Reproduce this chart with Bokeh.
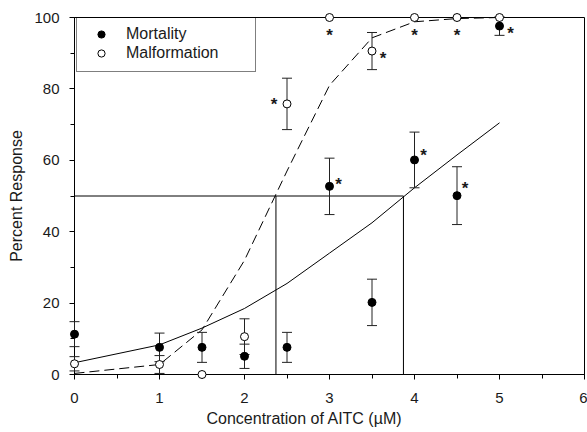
from bokeh.plotting import figure
from bokeh.models import (Range1d, Legend, LegendItem, Title, ColumnDataSource,
                          SingleIntervalTicker)
from bokeh.embed import file_html
from bokeh.resources import INLINE
from bokeh.core.properties import value

# ---------------- data ----------------
conc = [0, 1, 1.5, 2, 2.5, 3, 3.5, 4, 4.5, 5]
mortality = [11.3, 7.6, 7.6, 5.1, 7.6, 52.7, 20.2, 60.1, 50.1, 97.6]
mortality_se = [3.5, 4.0, 4.2, 3.4, 4.2, 7.9, 6.5, 7.8, 8.1, 2.6]
malformation = [3.0, 2.8, 0.0, 10.6, 75.8, 100, 90.6, 100, 100, 100]
malformation_se = [2.0, 2.5, 0.0, 5.0, 7.2, 0.0, 5.2, 0.0, 0.0, 0.0]
mortality_sig = [0, 0, 0, 0, 0, 1, 0, 1, 1, 1]
malformation_sig = [0, 0, 0, 0, 1, 1, 1, 1, 1, 0]

fit_conc = [0, 1, 1.5, 2, 2.5, 3, 3.5, 4, 4.5, 5]
mortality_fit = [3.3, 8.3, 13.0, 18.5, 25.5, 34.0, 42.5, 52.3, 61.5, 70.5]
malformation_fit = [0.3, 2.8, 12.5, 32.0, 57.0, 81.0, 94.3, 98.8, 99.7, 100.0]

ec50_conc = [2.37, 3.87]   # malformation, mortality
ec50_level = 50

# --------------- styles ---------------
FONT = "Liberation Sans"
INK = "#1a1a1a"
# asterisk screen offsets (px) relative to the marker: (dx, dy), dy down
mort_star_off = {3: (9, -6), 4: (9, -8), 4.5: (8, -11), 5: (11, 3)}
malf_star_off = {2.5: (-13, -3), 3: (0, 14), 3.5: (11, 3), 4: (0, 14), 4.5: (0, 14)}
STAR_SHIFT = 4  # glyph sits above "middle" baseline

p = figure(width=587, height=432, output_backend="svg", toolbar_location=None,
           x_range=Range1d(0, 6), y_range=Range1d(0, 100),
           min_border_left=74, min_border_right=3, min_border_top=17,
           min_border_bottom=58)
p.background_fill_color = "white"
p.border_fill_color = "white"
p.outline_line_color = "black"
p.outline_line_width = 1
p.xgrid.visible = False
p.ygrid.visible = False

p.xaxis.ticker = SingleIntervalTicker(interval=1, num_minor_ticks=2)
p.yaxis.ticker = SingleIntervalTicker(interval=20, num_minor_ticks=2)
for ax in (p.xaxis[0], p.yaxis[0]):
    ax.axis_line_color = "black"
    ax.major_tick_line_color = "black"
    ax.minor_tick_line_color = "black"
    ax.major_tick_in = 0
    ax.major_tick_out = 5
    ax.minor_tick_in = 0
    ax.minor_tick_out = 4
    ax.major_label_text_font = FONT
    ax.major_label_text_font_size = "15px"
    ax.major_label_text_color = INK
p.xaxis.major_label_standoff = 13
p.yaxis.major_label_standoff = 10
p.yaxis.axis_label = "Percent Response"
p.yaxis.axis_label_text_font = FONT
p.yaxis.axis_label_text_font_size = "16px"
p.yaxis.axis_label_text_font_style = "normal"
p.yaxis.axis_label_text_color = INK
p.yaxis.axis_label_standoff = 6

p.add_layout(Title(text="Concentration of AITC (\u00b5M)", align="left",
                   offset=132, standoff=5, text_font=FONT,
                   text_font_size="16px", text_font_style="normal",
                   text_color=INK), "below")

# fitted curves
p.line(fit_conc, mortality_fit, line_color="black", line_width=1)
p.line(fit_conc, malformation_fit, line_color="black", line_width=1,
       line_dash="10 5")

# EC50 guide lines
p.segment(x0=[0], y0=[ec50_level], x1=[max(ec50_conc)], y1=[ec50_level],
          line_color="black", line_width=1)
p.segment(x0=ec50_conc, y0=[0] * len(ec50_conc), x1=ec50_conc,
          y1=[ec50_level] * len(ec50_conc), line_color="black", line_width=1)

# error bars
def errbars(xs, ys, se):
    xx = [x for x, e in zip(xs, se) if e > 0]
    lo = [y - e for y, e in zip(ys, se) if e > 0]
    hi = [y + e for y, e in zip(ys, se) if e > 0]
    p.segment(x0=xx, y0=lo, x1=xx, y1=hi, line_color="#222222", line_width=1,
              level="overlay")
    p.scatter(xx + xx, lo + hi, marker="dash", size=10, line_color="#222222",
              line_width=1, level="overlay")

errbars(conc, mortality, mortality_se)
errbars(conc, malformation, malformation_se)

r_malf = p.scatter(conc, malformation, marker="circle", size=8,
                   fill_color="white", line_color="black", line_width=1,
                   level="overlay")
r_mort = p.scatter(conc, mortality, marker="circle", size=8,
                   fill_color="black", line_color="black", line_width=1,
                   level="overlay")

# significance asterisks
def stars(xs, ys, sig, offs):
    sx, sy, dx, dy = [], [], [], []
    for x, y, s in zip(xs, ys, sig):
        if s:
            o = offs.get(x, (10, -6))
            sx.append(x); sy.append(y); dx.append(o[0]); dy.append(o[1] + STAR_SHIFT)
    src = ColumnDataSource(dict(x=sx, y=sy, dx=dx, dy=dy, t=["*"] * len(sx)))
    p.text(x="x", y="y", text="t", x_offset="dx", y_offset="dy", source=src,
           text_font=value(FONT), text_font_size=value("17px"),
           text_font_style="bold", text_color=INK, text_align="center",
           text_baseline="middle", level="overlay")

stars(conc, mortality, mortality_sig, mort_star_off)
stars(conc, malformation, malformation_sig, malf_star_off)

legend = Legend(items=[LegendItem(label="Mortality", renderers=[r_mort]),
                       LegendItem(label="Malformation", renderers=[r_malf])],
                location=(2, 302), margin=0, padding=9, spacing=1,
                glyph_width=30, glyph_height=18, label_height=18,
                label_width=120, label_standoff=10,
                label_text_font=FONT, label_text_font_size="16px",
                label_text_color=INK, border_line_color="black",
                border_line_width=1, background_fill_alpha=0.0)
p.add_layout(legend)

open("out.html", "w").write(file_html(p, INLINE))
